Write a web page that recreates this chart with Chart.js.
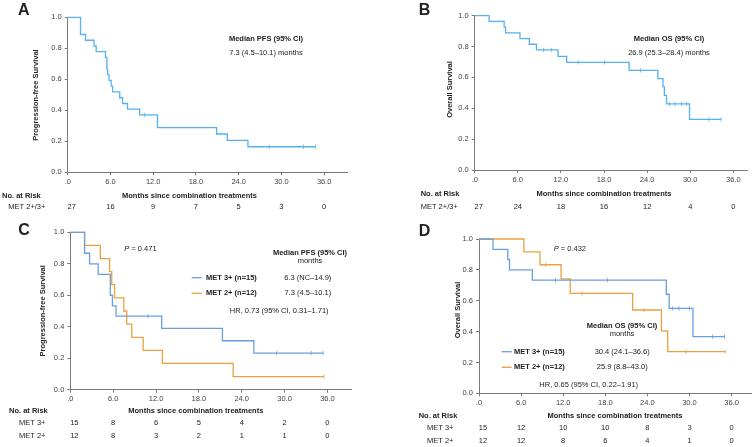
<!DOCTYPE html>
<html lang="en">
<head>
<meta charset="UTF-8">
<title>MET 2+/3+ survival</title>
<script src="https://cdn.jsdelivr.net/npm/chart.js"></script>
<style>
  body { margin: 0; background: #fff; width: 756px; height: 447px; position: relative; overflow: hidden; }
  canvas { position: absolute; }
</style>
</head>
<body>
<canvas id="chartA" style="left:0;top:0"></canvas>
<canvas id="chartB" style="left:378px;top:0"></canvas>
<canvas id="chartC" style="left:0;top:220px"></canvas>
<canvas id="chartD" style="left:378px;top:220px"></canvas>
<script>
// axis ticks
const xTickValues = [0, 6, 12, 18, 24, 30, 36];
const xTickLabels = ['.0', '6.0', '12.0', '18.0', '24.0', '30.0', '36.0'];
const yTickValues = [0, 0.2, 0.4, 0.6, 0.8, 1.0];
const yTickLabels = ['0.0', '0.2', '0.4', '0.6', '0.8', '1.0'];
const riskTimes = [0, 6, 12, 18, 24, 30, 36];

// A - PFS, all MET 2+/3+
const pfsAllTimes = [0, 1.8, 2.5, 3.7, 4.0, 5.3, 5.5, 5.6, 5.8, 6.1, 6.3, 7.3, 7.7, 8.4, 10.1, 12.6, 20.9, 22.4, 25.3, 34.8];
const pfsAllSurv = [1, 0.889, 0.852, 0.815, 0.778, 0.741, 0.667, 0.630, 0.593, 0.556, 0.519, 0.481, 0.444, 0.407, 0.370, 0.288, 0.247, 0.206, 0.165, 0.165];
const pfsAllCensor = [10.8, 28.3, 33.1, 34.8];
const pfsAllRisk = [27, 16, 9, 7, 5, 3, 0];

// B - OS, all MET 2+/3+
const osAllTimes = [0, 2.0, 4.1, 4.3, 6.3, 7.6, 8.6, 11.6, 12.8, 21.5, 25.5, 26.2, 26.4, 26.7, 29.9, 34.3];
const osAllSurv = [1, 0.963, 0.926, 0.889, 0.852, 0.815, 0.778, 0.737, 0.698, 0.646, 0.592, 0.540, 0.484, 0.428, 0.328, 0.328];
const osAllCensor = [9.6, 10.7, 14.4, 18.1, 23.1, 27.1, 27.9, 28.8, 29.5, 32.6, 34.3];
const osAllRisk = [27, 24, 18, 16, 12, 4, 0];

// C - PFS by MET level
const pfs3Times = [0, 2.0, 2.7, 3.9, 5.6, 5.9, 6.4, 12.8, 21.3, 25.7, 35.4];
const pfs3Surv = [1, 0.867, 0.8, 0.733, 0.6, 0.533, 0.467, 0.389, 0.311, 0.233, 0.233];
const pfs3Censor = [10.9, 28.9, 33.7, 35.4];
const pfs2Times = [0, 2.0, 4.2, 5.5, 5.8, 6.2, 7.5, 7.9, 8.6, 10.2, 12.9, 22.8, 35.5];
const pfs2Surv = [1, 0.917, 0.833, 0.75, 0.667, 0.583, 0.5, 0.417, 0.333, 0.25, 0.167, 0.083, 0.083];
const pfs2Censor = [35.5];
const pfs3Risk = [15, 8, 6, 5, 4, 2, 0];
const pfs2Risk = [12, 8, 3, 2, 1, 1, 0];

// D - OS by MET level
const os3Times = [0, 2.0, 4.1, 4.35, 7.6, 26.7, 27.1, 30.5, 35.0];
const os3Surv = [1, 0.933, 0.867, 0.8, 0.733, 0.642, 0.55, 0.367, 0.367];
const os3Censor = [10.9, 18.3, 27.6, 28.5, 30.0, 33.3, 35.0];
const os2Times = [0, 6.4, 8.7, 11.7, 13.0, 21.9, 26.0, 26.9, 35.1];
const os2Surv = [1, 0.917, 0.833, 0.741, 0.648, 0.540, 0.405, 0.270, 0.270];
const os2Censor = [9.5, 14.7, 23.5, 29.5, 35.1];
const os3Risk = [15, 12, 10, 10, 8, 3, 0];
const os2Risk = [12, 12, 8, 6, 4, 1, 0];

const FONT = "'Liberation Sans', Arial, sans-serif";
const AXIS = '#7a7a7a';
const TEXT = '#222';
const SKY = '#55b2ef';
const BLUE = '#6a9ee0';
const ORANGE = '#eda03e';

function survAt(times, surv, t) {
  let s = surv[0];
  for (let i = 0; i < times.length; i++) if (times[i] <= t) s = surv[i];
  return s;
}

function curve(times, surv, color) {
  return {
    data: times.map((t, i) => ({ x: t, y: surv[i] })),
    stepped: 'before', borderColor: color, borderWidth: 1.3,
    pointRadius: 0, fill: false, clip: false
  };
}

function censor(marks, times, surv, color) {
  return {
    data: marks.map(t => ({ x: t, y: survAt(times, surv, t) })),
    showLine: false, pointStyle: 'line', rotation: 90, pointRadius: 2.2,
    borderColor: color, borderWidth: 0.8, clip: false
  };
}

function txt(ctx, s, x, y, opt) {
  opt = opt || {};
  ctx.font = (opt.italic ? 'italic ' : '') + (opt.bold ? 'bold ' : '') + (opt.size || 7.5) + 'px ' + FONT;
  ctx.fillStyle = TEXT;
  ctx.textAlign = opt.align || 'left';
  ctx.textBaseline = 'middle';
  ctx.fillText(s, x, y);
}

function buildPanel(p) {
  const canvas = document.getElementById(p.id);
  canvas.width = p.box.w;
  canvas.height = p.box.h;
  const xAxisH = 14;
  const bx = p.box.x, by = p.box.y;

  const labels = {
    id: 'labels',
    afterDraw(chart) {
      const ctx = chart.ctx;
      ctx.save();
      txt(ctx, p.letter, p.letterPos[0] - bx, p.letterPos[1] - by, { bold: true, size: 16 });
      ctx.save();
      ctx.translate(p.yTitlePos[0] - bx, p.yTitlePos[1] - by);
      ctx.rotate(-Math.PI / 2);
      txt(ctx, p.yTitle, 0, 0, { bold: true, align: 'center' });
      ctx.restore();
      p.notes.forEach(n => txt(ctx, n.t, n.x - bx, n.y - by, n));
      if (p.pValue) {
        const [px, py] = p.pValue.pos;
        txt(ctx, 'P', px - bx, py - by, { italic: true });
        const w = ctx.measureText('P').width;
        txt(ctx, ' = ' + p.pValue.t, px - bx + w, py - by);
      }
      (p.legend || []).forEach(l => {
        ctx.strokeStyle = l.color;
        ctx.lineWidth = 1.3;
        ctx.beginPath();
        ctx.moveTo(l.x0 - bx, l.y - by);
        ctx.lineTo(l.x1 - bx, l.y - by);
        ctx.stroke();
      });
      txt(ctx, 'No. at Risk', p.riskHead[0] - bx, p.riskHead[1] - by, { bold: true });
      txt(ctx, 'Months since combination treatments', p.monthsPos[0] - bx, p.monthsPos[1] - by, { bold: true, align: 'center' });
      const xs = chart.scales.x;
      p.riskRows.forEach(r => {
        txt(ctx, r.label, r.x - bx, r.y - by);
        r.values.forEach((v, i) => {
          const px = xs.getPixelForValue(riskTimes[i]) + (i === 0 ? 4 : 0);
          txt(ctx, String(v), px, r.y - by, { align: 'center' });
        });
      });
      ctx.restore();
    }
  };

  const tickFont = { family: FONT, size: 7.5 };
  new Chart(canvas, {
    type: 'line',
    data: { datasets: p.datasets },
    options: {
      responsive: false,
      animation: false,
      layout: {
        padding: {
          left: 0,
          top: p.area.t - by,
          right: bx + p.box.w - p.area.r,
          bottom: by + p.box.h - p.area.b - xAxisH
        }
      },
      plugins: { legend: { display: false }, tooltip: { enabled: false } },
      scales: {
        x: {
          type: 'linear', min: 0, max: p.xMax,
          afterFit: s => { s.height = xAxisH; },
          afterBuildTicks: s => { s.ticks = xTickValues.map(v => ({ value: v })); },
          ticks: { callback: (v, i) => xTickLabels[i], font: tickFont, color: '#444', padding: 2, maxRotation: 0, autoSkip: false },
          grid: { drawOnChartArea: false, tickLength: 3, color: AXIS },
          border: { color: AXIS }
        },
        y: {
          type: 'linear', min: 0, max: 1,
          afterFit: s => { s.width = p.area.l - bx; },
          afterBuildTicks: s => { s.ticks = yTickValues.map(v => ({ value: v })); },
          ticks: { callback: (v, i) => yTickLabels[i], font: tickFont, color: '#444', padding: 3 },
          grid: { drawOnChartArea: false, tickLength: 3, color: AXIS },
          border: { color: AXIS }
        }
      }
    },
    plugins: [labels]
  });
}

buildPanel({
  id: 'chartA', box: { x: 0, y: 0, w: 378, h: 220 },
  area: { l: 67.7, t: 17.3, r: 347, b: 172.3 }, xMax: 39.2,
  datasets: [curve(pfsAllTimes, pfsAllSurv, SKY), censor(pfsAllCensor, pfsAllTimes, pfsAllSurv, SKY)],
  letter: 'A', letterPos: [18, 10.5],
  yTitle: 'Progression-free Survival', yTitlePos: [36, 95],
  notes: [
    { t: 'Median PFS (95% CI)', x: 266, y: 39.3, bold: true, align: 'center' },
    { t: '7.3 (4.5–10.1) months', x: 266, y: 52.7, align: 'center' }
  ],
  riskHead: [2, 195.5], monthsPos: [189.5, 195.5],
  riskRows: [{ label: 'MET 2+/3+', x: 8.3, y: 207.3, values: pfsAllRisk }]
});

buildPanel({
  id: 'chartB', box: { x: 378, y: 0, w: 378, h: 220 },
  area: { l: 474.7, t: 15.7, r: 747, b: 170 }, xMax: 37.9,
  datasets: [curve(osAllTimes, osAllSurv, SKY), censor(osAllCensor, osAllTimes, osAllSurv, SKY)],
  letter: 'B', letterPos: [418.7, 10.5],
  yTitle: 'Overall Survival', yTitlePos: [449.7, 89.5],
  notes: [
    { t: 'Median OS (95% CI)', x: 669, y: 39.3, bold: true, align: 'center' },
    { t: '26.9 (25.3–28.4) months', x: 669, y: 52.7, align: 'center' }
  ],
  riskHead: [420.7, 194], monthsPos: [604, 194],
  riskRows: [{ label: 'MET 2+/3+', x: 420.7, y: 206.7, values: osAllRisk }]
});

buildPanel({
  id: 'chartC', box: { x: 0, y: 220, w: 378, h: 227 },
  area: { l: 70.3, t: 232.3, r: 351, b: 389.7 }, xMax: 39.3,
  datasets: [
    curve(pfs3Times, pfs3Surv, BLUE), censor(pfs3Censor, pfs3Times, pfs3Surv, BLUE),
    curve(pfs2Times, pfs2Surv, ORANGE), censor(pfs2Censor, pfs2Times, pfs2Surv, ORANGE)
  ],
  letter: 'C', letterPos: [18.3, 231],
  yTitle: 'Progression-free Survival', yTitlePos: [43.3, 310.8],
  pValue: { t: '0.471', pos: [124.3, 249] },
  notes: [
    { t: 'Median PFS (95% CI)', x: 310, y: 252.7, bold: true, align: 'center' },
    { t: 'months', x: 310, y: 261, align: 'center' },
    { t: 'MET 3+ (n=15)', x: 206, y: 277.7, bold: true },
    { t: '6.3 (NC–14.9)', x: 307.8, y: 277.7, align: 'center' },
    { t: 'MET 2+ (n=12)', x: 206, y: 293.3, bold: true },
    { t: '7.3 (4.5–10.1)', x: 307.8, y: 293.3, align: 'center' },
    { t: 'HR, 0.73 (95% CI, 0.31–1.71)', x: 279.2, y: 311, align: 'center' }
  ],
  legend: [
    { color: BLUE, x0: 191.7, x1: 201.7, y: 277.7 },
    { color: ORANGE, x0: 191.7, x1: 201.7, y: 293.3 }
  ],
  riskHead: [9, 410.7], monthsPos: [195.8, 410.7],
  riskRows: [
    { label: 'MET 3+', x: 19, y: 422.7, values: pfs3Risk },
    { label: 'MET 2+', x: 19, y: 435.7, values: pfs2Risk }
  ]
});

buildPanel({
  id: 'chartD', box: { x: 378, y: 220, w: 378, h: 227 },
  area: { l: 479, t: 239, r: 755.5, b: 393.3 }, xMax: 38.8,
  datasets: [
    curve(os3Times, os3Surv, BLUE), censor(os3Censor, os3Times, os3Surv, BLUE),
    curve(os2Times, os2Surv, ORANGE), censor(os2Censor, os2Times, os2Surv, ORANGE)
  ],
  letter: 'D', letterPos: [418.7, 231.5],
  yTitle: 'Overall Survival', yTitlePos: [458, 310],
  pValue: { t: '0.432', pos: [553.7, 249.3] },
  notes: [
    { t: 'Median OS (95% CI)', x: 622, y: 325.7, bold: true, align: 'center' },
    { t: 'months', x: 622, y: 334.3, align: 'center' },
    { t: 'MET 3+ (n=15)', x: 514, y: 351.7, bold: true },
    { t: '30.4 (24.1–36.6)', x: 622.2, y: 351.7, align: 'center' },
    { t: 'MET 2+ (n=12)', x: 514, y: 367.3, bold: true },
    { t: '25.9 (8.8–43.0)', x: 622.2, y: 367.3, align: 'center' },
    { t: 'HR, 0.65 (95% CI, 0.22–1.91)', x: 588.7, y: 385, align: 'center' }
  ],
  legend: [
    { color: BLUE, x0: 501.7, x1: 511.7, y: 351.7 },
    { color: ORANGE, x0: 501.7, x1: 511.7, y: 367.3 }
  ],
  riskHead: [418.7, 415.7], monthsPos: [615, 415.7],
  riskRows: [
    { label: 'MET 3+', x: 427, y: 428.3, values: os3Risk },
    { label: 'MET 2+', x: 427, y: 440.7, values: os2Risk }
  ]
});
</script>
</body>
</html>
